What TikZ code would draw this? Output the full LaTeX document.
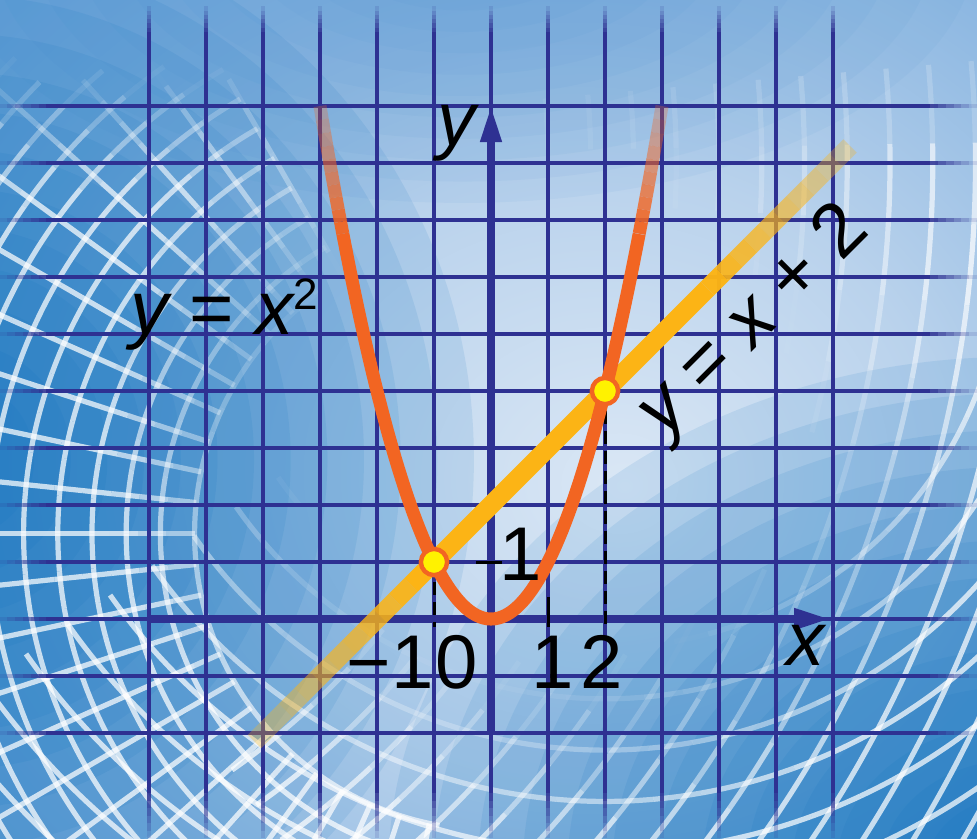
\documentclass[tikz,border=0pt]{standalone}
\usepackage{fontspec}
\setmainfont{Liberation Sans}
\usepackage{tikz}
\usetikzlibrary{arrows.meta,calc}
\definecolor{GraphIndigo}{HTML}{2E3192}
\definecolor{GraphOrange}{HTML}{F26522}
\definecolor{GraphAmber}{HTML}{FCB415}
\definecolor{GraphYellow}{HTML}{FFF200}
\definecolor{BgLight}{HTML}{DAE7F5}
\definecolor{BgPale}{HTML}{B9D2EC}
\definecolor{BgMid}{HTML}{82B1DF}
\definecolor{BgBlue}{HTML}{6CA3D8}
\definecolor{BgTop}{HTML}{4F93D2}
\definecolor{BgDeep}{HTML}{0A6FBE}
\pgfdeclareradialshading{bgshade}{\pgfpoint{7bp}{-4bp}}{color(0bp)=(BgLight); color(18bp)=(BgPale); color(38bp)=(BgMid); color(55bp)=(BgBlue); color(71bp)=(BgBlue)}
% opacity of the mesh: none near the light centre and the top, more towards the edges
\newcommand\meshop[2]{\pgfmathsetmacro\op{max(0,min(0.72,(veclen(#1-1,#2-3.5)-4.5)/4.5))*max(0,min(1,(9.6-(#2))/2.2))}}
\tikzset{
  gridline/.style={draw=GraphIndigo,line width=1.7pt},
  axisline/.style={draw=GraphIndigo,line width=3.6pt,-{Triangle[length=18pt,width=10pt]}},
  meshline/.style={draw=white,line width=2.6pt},
  deepblob/.style={fill=BgDeep,fill opacity=0.1},
  topblob/.style={fill=BgTop,fill opacity=0.07},
  curveline/.style={draw=GraphOrange,line width=6.5pt},
  chordline/.style={draw=GraphAmber,line width=9.5pt},
  dropline/.style={draw=black,line width=1.5pt,dash pattern=on 6.5pt off 3.5pt},
  tickmark/.style={draw=black,line width=1.5pt},
  meetpoint/.style={circle,fill=GraphYellow,draw=GraphOrange,line width=2.2pt,minimum size=0.46cm,inner sep=0pt},
  axislabel/.style={font=\fontsize{38}{40}\selectfont\itshape,anchor=base,inner sep=0pt},
  ticklabel/.style={font=\fontsize{38}{40}\selectfont,anchor=base,inner sep=0pt}
}
\begin{document}
\begin{tikzpicture}
  \useasboundingbox (-8.614,-3.842) rectangle (8.526,10.860);
  % background and mesh
  \begin{scope}
    \clip (-8.614,-3.842) rectangle (8.526,10.860);
    \shade[shading=bgshade] (-8.614,-3.842) rectangle (8.526,10.860);
    \foreach \k in {1,...,12}{
      \fill[topblob] (-0.5,11.8) ellipse ({9*\k/12} and {4.5*\k/12});
    }
    \foreach \k in {1,...,14}{
      \fill[deepblob] (-9.3,2.8) ellipse ({9*\k/14} and {9.5*\k/14});
      \fill[deepblob] (9.2,-4.4) ellipse ({11*\k/14} and {9*\k/14});
    }
    % left polar mesh
    \foreach \r in {5.2,5.8,...,12.4}
      \foreach \a in {120,125,...,255}{
        \meshop{\r*cos(\a+2.5)}{1.5+\r*sin(\a+2.5)}
        \draw[meshline,draw opacity=\op] (0,1.5) ++(\a:\r) arc[start angle=\a,end angle=\a+5,radius=\r];
      }
    \foreach \a in {120,126,...,258}
      \foreach \s in {5.2,5.7,...,12.2}{
        \meshop{(\s+0.25)*cos(\a)}{1.5+(\s+0.25)*sin(\a)}
        \draw[meshline,draw opacity=\op,shift={(0,1.5)}] (\a:\s) -- (\a:\s+0.5);
      }
    % lower right mesh
    \foreach \r in {7,7.9,...,15.2}
      \foreach \a in {215,220,...,355}{
        \meshop{2+\r*cos(\a+2.5)}{6.5+\r*sin(\a+2.5)}
        \draw[meshline,draw opacity=\op] (2,6.5) ++(\a:\r) arc[start angle=\a,end angle=\a+5,radius=\r];
      }
    \foreach \r in {13,13.75,...,25}
      \foreach \a in {-55,-51,...,9}{
        \meshop{-12+\r*cos(\a+2)}{8+\r*sin(\a+2)}
        \draw[meshline,draw opacity=\op] (-12,8) ++(\a:\r) arc[start angle=\a,end angle=\a+4,radius=\r];
      }
  \end{scope}
  % grid
  \foreach \gy in {-2,...,9}{
    \draw[gridline] (-7.8,\gy) -- (7.7,\gy);
    \foreach \k in {1,...,6}{
      \pgfmathsetmacro\op{\k/7}
      \pgfmathsetmacro\xa{-8.62+(\k-1)*0.137}
      \pgfmathsetmacro\xb{7.7+(6-\k)*0.138}
      \draw[gridline,draw opacity=\op] (\xa,\gy) -- ++(0.137,0);
      \draw[gridline,draw opacity=\op] (\xb,\gy) -- ++(0.138,0);
    }
  }
  \foreach \gx in {-6,...,6}{
    \draw[gridline] (\gx,-3.05) -- (\gx,10.3);
    \foreach \k in {1,...,6}{
      \pgfmathsetmacro\op{\k/7}
      \pgfmathsetmacro\ya{10.3+(6-\k)*0.075}
      \pgfmathsetmacro\yb{-3.85+(\k-1)*0.133}
      \draw[gridline,draw opacity=\op] (\gx,\ya) -- ++(0,0.075);
      \draw[gridline,draw opacity=\op] (\gx,\yb) -- ++(0,0.133);
    }
  }
  % axes
  \coordinate (xtail) at (-6,0);
  \coordinate (xhead) at (5.95,0);
  \coordinate (ytail) at (0,-2);
  \coordinate (yhead) at (0,9);
  \draw[axisline] (xtail) -- (xhead);
  \draw[axisline] (ytail) -- (yhead);
  % ticks and drop lines
  \coordinate (crossleft) at (-1,1);
  \coordinate (crossright) at (2,4);
  \coordinate (footleft) at (-1,-0.14);
  \coordinate (footright) at (2,-0.14);
  \draw[tickmark] (1,0.39) -- (1,-0.14);
  \draw[tickmark] (-0.26,1) -- (0.2,1);
  \draw[dropline] (crossleft) -- (footleft);
  \draw[dropline] (crossright) -- (footright);
  % y = x + 2
  \coordinate (chordA) at (-4.15,-2.15);
  \coordinate (chordB) at (-1.4,0.6);
  \coordinate (chordC) at (3.8,5.8);
  \coordinate (chordD) at (6.3,8.3);
  \draw[chordline] (chordB) -- (chordC);
  \foreach \k in {0,...,9}{
    \pgfmathsetmacro\op{0.3+0.07*\k}
    \draw[chordline,draw opacity=\op] ($(chordA)!{\k/10}!(chordB)$) -- ($(chordA)!{\k/10+0.1}!(chordB)$);
    \pgfmathsetmacro\op{0.97-0.075*\k}
    \draw[chordline,draw opacity=\op] ($(chordC)!{\k/10}!(chordD)$) -- ($(chordC)!{\k/10+0.1}!(chordD)$);
  }
  % y = x^2
  \draw[curveline] plot[domain=-2.6:2.6,samples=81,smooth] (\x,{\x*\x});
  \foreach \k in {0,...,9}{
    \pgfmathsetmacro\op{0.95-0.075*\k}
    \pgfmathsetmacro\xa{2.6+0.04*\k}
    \pgfmathsetmacro\xb{\xa+0.04}
    \draw[curveline,draw opacity=\op] plot[domain=\xa:\xb,samples=3] (\x,{\x*\x});
    \draw[curveline,draw opacity=\op] plot[domain=-\xa:-\xb,samples=3] (\x,{\x*\x});
  }
  \node[meetpoint] (meetleft) at (crossleft) {};
  \node[meetpoint] (meetright) at (crossright) {};
  % labels
  \node[axislabel] (ylabel) at (-0.61,8.30) {y};
  \node[axislabel] (xlabel) at (5.51,-0.81) {x};
  \node[ticklabel] (tickminus) at (-1.77,-1.21) {−1};
  \node[ticklabel] (tickzero) at (-0.60,-1.21) {0};
  \node[ticklabel] (tickone) at (1.09,-1.21) {1};
  \node[ticklabel] (ticktwo) at (1.95,-1.21) {2};
  \node[ticklabel] (ytickone) at (0.52,0.68) {1};
  \node[ticklabel,anchor=base west] (squarelabel) at (-6.33,5.0)
    {{\itshape y} = {\itshape x}\raisebox{12pt}{\fontsize{22}{22}\selectfont 2}};
  \node[ticklabel,anchor=center,rotate=45] (chordlabel) at (4.63,5.21)
    {{\itshape y} = {\itshape x} + 2};
\end{tikzpicture}
\end{document}
